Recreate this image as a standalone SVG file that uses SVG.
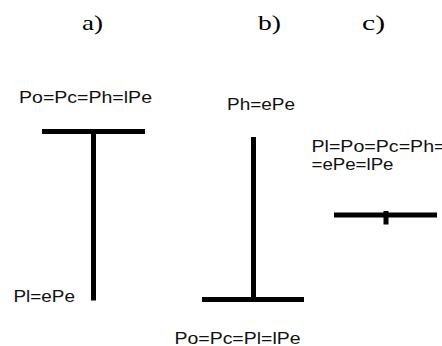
<svg xmlns="http://www.w3.org/2000/svg" width="442" height="346" viewBox="0 0 442 346">
<style>
.lbl{font-family:"Liberation Sans",Arial,sans-serif;font-size:16px;fill:#111}
.cap{font-family:"Liberation Serif","Times New Roman",serif;font-size:22px;fill:#000}
.bar{stroke:#000;stroke-width:5;fill:none;stroke-linecap:butt}
</style>
<rect width="442" height="346" fill="#fff"/>
<g id="captions">
<text class="cap" x="82" y="30" textLength="21" lengthAdjust="spacingAndGlyphs">a)</text>
<text class="cap" x="258" y="30" textLength="23" lengthAdjust="spacingAndGlyphs">b)</text>
<text class="cap" x="362" y="30" textLength="23" lengthAdjust="spacingAndGlyphs">c)</text>
</g>
<g id="connectors">
<line class="bar" x1="42" y1="131.5" x2="145" y2="131.5"/>
<line class="bar" x1="93.5" y1="131.5" x2="93.5" y2="300.5"/>
<line class="bar" x1="253.5" y1="137" x2="253.5" y2="299.5"/>
<line class="bar" x1="202" y1="299.5" x2="304" y2="299.5"/>
<line class="bar" x1="334" y1="215" x2="437" y2="215"/>
<line class="bar" x1="386" y1="211" x2="386" y2="224.5"/>
</g>
<g id="node-a">
<text class="lbl" x="19" y="102.5" textLength="133" lengthAdjust="spacingAndGlyphs">Po=Pc=Ph=lPe</text>
<text class="lbl" x="13.5" y="301.5" textLength="61.5" lengthAdjust="spacingAndGlyphs">Pl=ePe</text>
</g>
<g id="node-b">
<text class="lbl" x="227" y="110" textLength="68" lengthAdjust="spacingAndGlyphs">Ph=ePe</text>
<text class="lbl" x="174.5" y="344" textLength="126" lengthAdjust="spacingAndGlyphs">Po=Pc=Pl=lPe</text>
</g>
<g id="node-c">
<text class="lbl" x="311.5" y="151.5" textLength="134" lengthAdjust="spacingAndGlyphs">Pl=Po=Pc=Ph=</text>
<text class="lbl" x="311.5" y="170" textLength="82" lengthAdjust="spacingAndGlyphs">=ePe=lPe</text>
</g>
</svg>
